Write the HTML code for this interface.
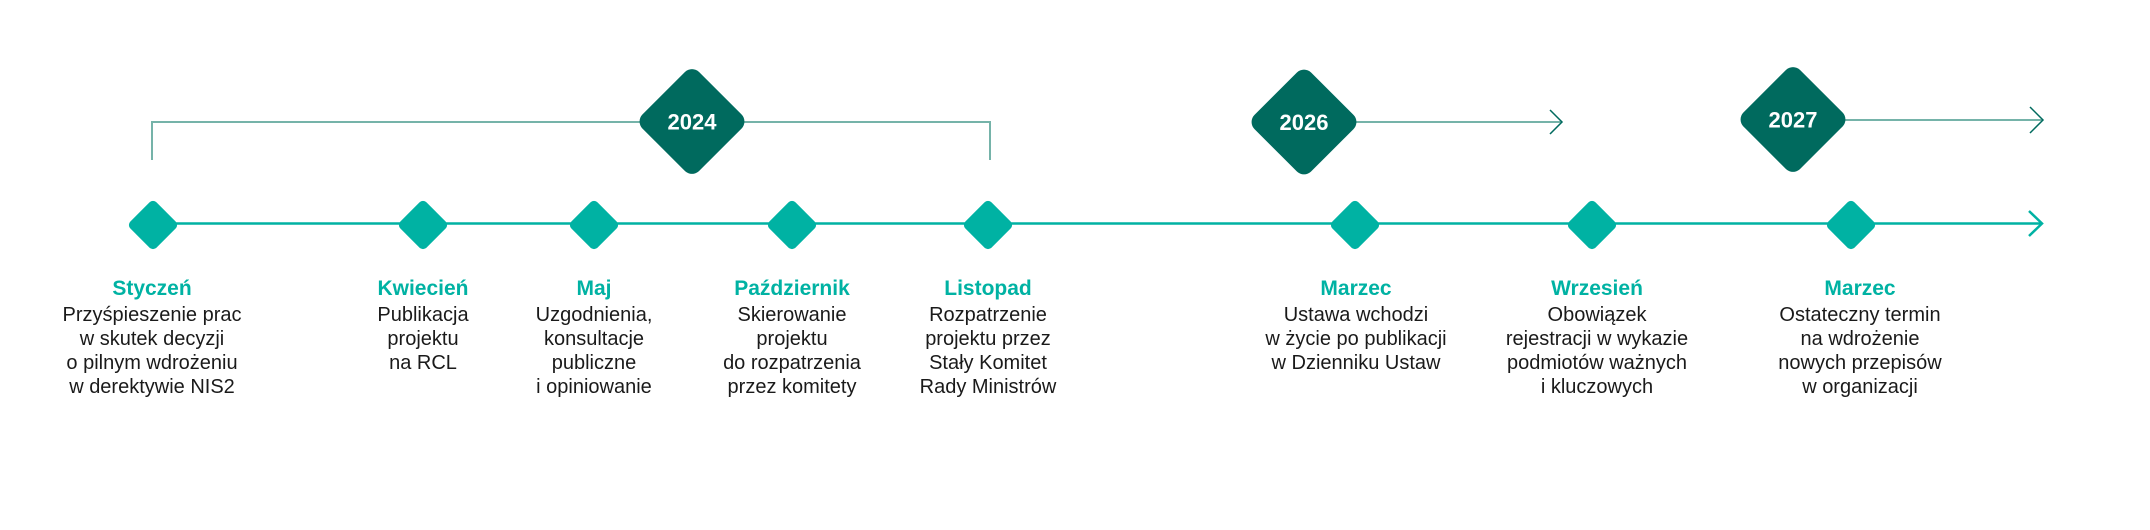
<!DOCTYPE html>
<html><head><meta charset="utf-8"><style>
html,body{margin:0;padding:0;background:#fff;}
body{width:2150px;height:530px;position:relative;overflow:hidden;font-family:"Liberation Sans",sans-serif;}
.t{position:absolute;width:300px;margin-left:-150px;text-align:center;top:274px;}
.t b{display:block;color:#00b2a3;font-size:21px;line-height:29px;font-weight:bold;}
.t span{display:block;color:#1a1a1a;font-size:20px;line-height:24px;}
</style></head><body>
<svg width="2150" height="530" style="position:absolute;left:0;top:0">
<g fill="none" stroke="#75b3a9" stroke-width="2">
<polyline points="152,160 152,122 990,122 990,160"/>
<line x1="1304" y1="122" x2="1562" y2="122"/>
<polyline points="1550,110 1562,122 1550,134" stroke="#006a5e" stroke-width="1.5"/>
<line x1="1793" y1="120" x2="2042" y2="120"/>
<polyline points="2030,107 2043,120 2030,133" stroke="#006a5e" stroke-width="1.5"/>
</g>
<g fill="none" stroke="#00b2a3" stroke-width="2.5">
<line x1="152" y1="223.5" x2="2042" y2="223.5"/>
<polyline points="2029,211 2042,223.5 2029,236"/>
</g>
<g fill="#006a5e">
<rect x="-40" y="-40" width="80" height="80" rx="10" transform="translate(692,121.5) rotate(45)"/>
<rect x="-40" y="-40" width="80" height="80" rx="10" transform="translate(1304,122) rotate(45)"/>
<rect x="-40" y="-40" width="80" height="80" rx="10" transform="translate(1793,119.5) rotate(45)"/>
</g>
<g fill="#00b2a3">
<rect x="-18.5" y="-18.5" width="37" height="37" rx="5" transform="translate(153,225) rotate(45)"/>
<rect x="-18.5" y="-18.5" width="37" height="37" rx="5" transform="translate(423,225) rotate(45)"/>
<rect x="-18.5" y="-18.5" width="37" height="37" rx="5" transform="translate(594,225) rotate(45)"/>
<rect x="-18.5" y="-18.5" width="37" height="37" rx="5" transform="translate(792,225) rotate(45)"/>
<rect x="-18.5" y="-18.5" width="37" height="37" rx="5" transform="translate(988,225) rotate(45)"/>
<rect x="-18.5" y="-18.5" width="37" height="37" rx="5" transform="translate(1355,225) rotate(45)"/>
<rect x="-18.5" y="-18.5" width="37" height="37" rx="5" transform="translate(1592,225) rotate(45)"/>
<rect x="-18.5" y="-18.5" width="37" height="37" rx="5" transform="translate(1851,225) rotate(45)"/>
</g>
<g fill="#fff" font-family="Liberation Sans, sans-serif" font-weight="bold" font-size="22" text-anchor="middle">
<text x="692" y="129.5">2024</text>
<text x="1304" y="130">2026</text>
<text x="1793" y="127.5">2027</text>
</g>
</svg>
<div class="t" style="left:152px"><b>Styczeń</b><span>Przyśpieszenie prac<br>w skutek decyzji<br>o pilnym wdrożeniu<br>w derektywie NIS2</span></div>
<div class="t" style="left:423px"><b>Kwiecień</b><span>Publikacja<br>projektu<br>na RCL</span></div>
<div class="t" style="left:594px"><b>Maj</b><span>Uzgodnienia,<br>konsultacje<br>publiczne<br>i opiniowanie</span></div>
<div class="t" style="left:792px"><b>Październik</b><span>Skierowanie<br>projektu<br>do rozpatrzenia<br>przez komitety</span></div>
<div class="t" style="left:988px"><b>Listopad</b><span>Rozpatrzenie<br>projektu przez<br>Stały Komitet<br>Rady Ministrów</span></div>
<div class="t" style="left:1356px"><b>Marzec</b><span>Ustawa wchodzi<br>w życie po publikacji<br>w Dzienniku Ustaw</span></div>
<div class="t" style="left:1597px"><b>Wrzesień</b><span>Obowiązek<br>rejestracji w wykazie<br>podmiotów ważnych<br>i kluczowych</span></div>
<div class="t" style="left:1860px"><b>Marzec</b><span>Ostateczny termin<br>na wdrożenie<br>nowych przepisów<br>w organizacji</span></div>
</body></html>
